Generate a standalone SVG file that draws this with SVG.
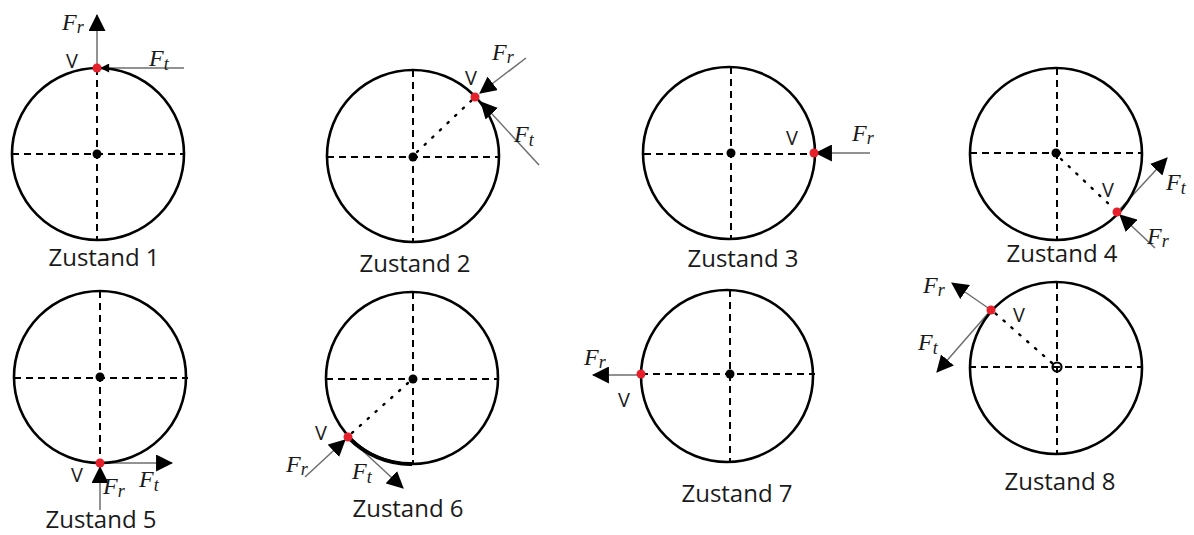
<svg xmlns="http://www.w3.org/2000/svg" width="1194" height="535" viewBox="0 0 1194 535">
<style>
.c{fill:none;stroke:#000;stroke-width:2.6}
.d{stroke:#000;stroke-width:2;stroke-dasharray:7 5;fill:none}
.o{stroke:#000;stroke-width:2.4;stroke-dasharray:1.5 9;stroke-linecap:round;fill:none}
.f{stroke:#6e6e6e;stroke-width:1.5;fill:none;marker-end:url(#ah)}
.fs{stroke:#6e6e6e;stroke-width:1.5;fill:none;marker-end:url(#ahs)}
.p{fill:#e5202a}
.m{fill:#000}
.lab{font-family:"Open Sans","Liberation Sans",sans-serif;font-size:24px;fill:#1a1a1a}
.v{font-family:"Open Sans","Liberation Sans",sans-serif;font-size:20px;fill:#1a1a1a}
.F{font-family:"Liberation Serif","DejaVu Serif",serif;font-style:italic;font-size:24px;fill:#1a1a1a}
.s{font-size:18px}
</style>
<defs>
<marker id="ah" viewBox="0 0 16 16" refX="15" refY="8" markerWidth="17" markerHeight="17" markerUnits="userSpaceOnUse" orient="auto"><path d="M0,0 L16,8 L0,16 z" fill="#000"/></marker>
<marker id="ahs" viewBox="0 0 10 10" refX="9" refY="5" markerWidth="10" markerHeight="9" markerUnits="userSpaceOnUse" orient="auto"><path d="M0,0 L10,5 L0,10 z" fill="#000"/></marker>
</defs>

<g id="connectors">
<line class="f" x1="97" y1="68" x2="97" y2="15"/>
<line class="fs" x1="184" y1="68" x2="101" y2="68"/>
<line class="f" x1="526" y1="58" x2="480" y2="93"/>
<line class="f" x1="539" y1="165" x2="481" y2="102"/>
<line class="f" x1="870" y1="153" x2="816" y2="153"/>
<line class="f" x1="1120" y1="209" x2="1167" y2="158"/>
<line class="f" x1="1155" y1="248" x2="1120" y2="215"/>
<line class="f" x1="104" y1="463" x2="172" y2="463"/>
<line class="f" x1="100" y1="510" x2="100" y2="467"/>
<line class="f" x1="305" y1="477" x2="345" y2="440"/>
<line class="f" x1="351" y1="440" x2="403" y2="488"/>
<line class="f" x1="640" y1="375" x2="593" y2="375"/>
<line class="f" x1="991" y1="310" x2="952" y2="283"/>
<line class="f" x1="991" y1="310" x2="937" y2="372"/>
</g>

<g id="zustand1">
<circle class="c" cx="98" cy="154" r="86"/>
<line class="d" x1="97" y1="68" x2="97" y2="240"/>
<line class="d" x1="12" y1="154" x2="184" y2="154"/>
<circle class="m" cx="97" cy="154" r="4.5"/>
<circle class="p" cx="97" cy="68" r="4.5"/>
<text class="v" x="66" y="68">V</text>
<text class="F" x="62" y="30">F<tspan class="s" dy="3">r</tspan></text>
<text class="F" x="149" y="66">F<tspan class="s" dy="4">t</tspan></text>
<text class="lab" x="104" y="266" text-anchor="middle">Zustand 1</text>
</g>

<g id="zustand2">
<circle class="c" cx="413" cy="156" r="86"/>
<line class="d" x1="413" y1="70" x2="413" y2="242"/>
<line class="d" x1="327" y1="157" x2="499" y2="157"/>
<line class="o" x1="417" y1="152" x2="472" y2="100"/>
<circle class="m" cx="413" cy="157" r="4.5"/>
<circle class="p" cx="475" cy="97" r="4.5"/>
<text class="v" x="465" y="85">V</text>
<text class="F" x="492" y="60">F<tspan class="s" dy="3">r</tspan></text>
<text class="F" x="514" y="142">F<tspan class="s" dy="4">t</tspan></text>
<text class="lab" x="415" y="272" text-anchor="middle">Zustand 2</text>
</g>

<g id="zustand3">
<circle class="c" cx="729" cy="153" r="86"/>
<line class="d" x1="731" y1="67" x2="731" y2="239"/>
<line class="d" x1="644" y1="154" x2="814" y2="154"/>
<circle class="m" cx="731" cy="153" r="4.5"/>
<circle class="p" cx="814" cy="153" r="4.5"/>
<text class="v" x="786" y="145">V</text>
<text class="F" x="852" y="141">F<tspan class="s" dy="3">r</tspan></text>
<text class="lab" x="743" y="267" text-anchor="middle">Zustand 3</text>
</g>

<g id="zustand4">
<circle class="c" cx="1056" cy="154" r="86"/>
<line class="d" x1="1057" y1="68" x2="1057" y2="240"/>
<line class="d" x1="970" y1="153" x2="1143" y2="153"/>
<line class="o" x1="1061" y1="159" x2="1113" y2="208"/>
<circle class="m" cx="1056" cy="153" r="4.5"/>
<circle class="p" cx="1117" cy="212" r="4.5"/>
<text class="v" x="1102" y="197">V</text>
<text class="F" x="1166" y="190">F<tspan class="s" dy="4">t</tspan></text>
<text class="F" x="1147" y="244">F<tspan class="s" dy="3">r</tspan></text>
<text class="lab" x="1062" y="262" text-anchor="middle">Zustand 4</text>
</g>

<g id="zustand5">
<circle class="c" cx="100" cy="377" r="86"/>
<line class="d" x1="100" y1="291" x2="100" y2="463"/>
<line class="d" x1="14" y1="378" x2="188" y2="378"/>
<circle class="m" cx="100" cy="377" r="4.5"/>
<circle class="p" cx="100" cy="463" r="4.5"/>
<text class="v" x="71" y="482">V</text>
<text class="F" x="139" y="487">F<tspan class="s" dy="4">t</tspan></text>
<text class="F" x="103" y="494">F<tspan class="s" dy="3">r</tspan></text>
<text class="lab" x="101" y="528" text-anchor="middle">Zustand 5</text>
</g>

<g id="zustand6">
<circle class="c" cx="412" cy="378" r="86"/>
<path d="M348,437 A86,86 0 0 0 412,464" fill="none" stroke="#000" stroke-width="4"/>
<line class="d" x1="413" y1="292" x2="413" y2="464"/>
<line class="d" x1="326" y1="379" x2="499" y2="379"/>
<line class="o" x1="408" y1="383" x2="352" y2="433"/>
<circle class="m" cx="413" cy="379" r="4.5"/>
<circle class="p" cx="348" cy="437" r="4.5"/>
<text class="v" x="315" y="440">V</text>
<text class="F" x="286" y="472">F<tspan class="s" dy="3">r</tspan></text>
<text class="F" x="352" y="479">F<tspan class="s" dy="4">t</tspan></text>
<text class="lab" x="408" y="517" text-anchor="middle">Zustand 6</text>
</g>

<g id="zustand7">
<circle class="c" cx="727" cy="376" r="86"/>
<line class="d" x1="730" y1="290" x2="730" y2="463"/>
<line class="d" x1="641" y1="374" x2="815" y2="374"/>
<circle class="m" cx="730" cy="374" r="4.5"/>
<circle class="p" cx="641" cy="374" r="4.5"/>
<text class="v" x="618" y="407">V</text>
<text class="F" x="584" y="365">F<tspan class="s" dy="3">r</tspan></text>
<text class="lab" x="737" y="502" text-anchor="middle">Zustand 7</text>
</g>

<g id="zustand8">
<circle class="c" cx="1056" cy="368" r="86"/>
<line class="d" x1="1057" y1="282" x2="1057" y2="453"/>
<line class="d" x1="969" y1="367" x2="1143" y2="367"/>
<line class="o" x1="1052" y1="363" x2="995" y2="313"/>
<circle cx="1057" cy="367" r="4.5" fill="none" stroke="#000" stroke-width="2.2"/>
<circle class="p" cx="991" cy="310" r="4.5"/>
<text class="v" x="1013" y="322">V</text>
<text class="F" x="923" y="293">F<tspan class="s" dy="3">r</tspan></text>
<text class="F" x="918" y="350">F<tspan class="s" dy="4">t</tspan></text>
<text class="lab" x="1060" y="490" text-anchor="middle">Zustand 8</text>
</g>
</svg>
